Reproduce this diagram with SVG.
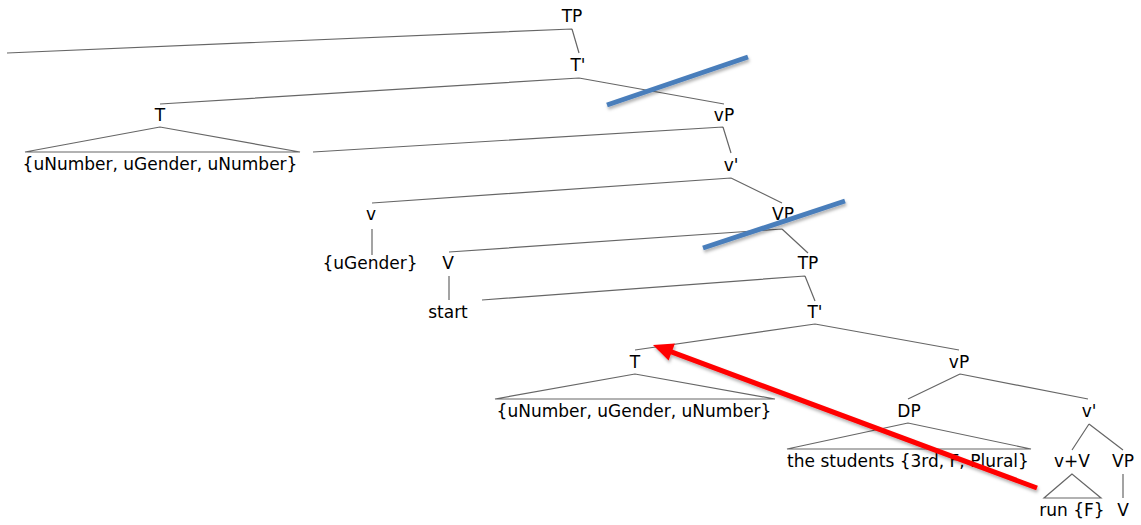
<svg xmlns="http://www.w3.org/2000/svg" width="1141" height="525" viewBox="0 0 1141 525">
<style>
text{font-family:"DejaVu Sans","Liberation Sans",sans-serif;font-size:17px;fill:#000;text-anchor:middle}
.e{stroke:#666;stroke-width:1.2;fill:none}
.blue{stroke:#4a7ebb;stroke-width:5;stroke-linecap:butt}
.red{stroke:#f00;stroke-width:5}
</style>
<defs>
<filter id="sh" x="-10%" y="-30%" width="120%" height="160%">
<feDropShadow dx="1" dy="2.5" stdDeviation="1.5" flood-color="#000" flood-opacity="0.3"/>
</filter>
</defs>
<rect width="1141" height="525" fill="#fff"/>
<g id="connectors">
<path class="e" d="M572,29 L7,53 M572,29 L579,53"/>
<path class="e" d="M579,78 L160,104 M579,78 L724,104"/>
<path class="e" d="M160,127 L25,152 L300,152 Z"/>
<path class="e" d="M723,127 L313,152 M723,127 L731,153"/>
<path class="e" d="M731,178 L372,203 M731,178 L782,203"/>
<path class="e" d="M372,229 L372,255"/>
<path class="e" d="M782,229 L449,252 M782,229 L808,253"/>
<path class="e" d="M449,276 L449,300"/>
<path class="e" d="M805,276 L482,300 M805,276 L815,301"/>
<path class="e" d="M815,324 L635,350 M815,324 L959,350"/>
<path class="e" d="M635,374 L495,399 L775,399 Z"/>
<path class="e" d="M960,374 L908,399 M960,374 L1088,399"/>
<path class="e" d="M908,423 L787,449 L1031,449 Z"/>
<path class="e" d="M1089,424 L1072,450 M1089,424 L1123,450"/>
<path class="e" d="M1072,474 L1044,498 L1101,498 Z"/>
<path class="e" d="M1123,474 L1123,498"/>
</g>
<g id="n-TP0"><text x="572" y="22">TP</text></g>
<g id="n-Tbar1"><text x="578" y="71">T'</text></g>
<g id="n-T2"><text x="160" y="121">T</text></g>
<g id="n-vP2"><text x="724" y="121">vP</text></g>
<g id="n-feat3"><text x="160" y="170">{uNumber, uGender, uNumber}</text></g>
<g id="n-vbar3"><text x="731" y="171">v'</text></g>
<g id="n-v4"><text x="371" y="220">v</text></g>
<g id="n-VP4"><text x="783" y="220">VP</text></g>
<g id="n-uGender5"><text x="370" y="269">{uGender}</text></g>
<g id="n-V5"><text x="448" y="269">V</text></g>
<g id="n-TP5"><text x="808" y="269">TP</text></g>
<g id="n-start6"><text x="448" y="318">start</text></g>
<g id="n-Tbar6"><text x="815" y="318">T'</text></g>
<g id="n-T7"><text x="635" y="368">T</text></g>
<g id="n-vP7"><text x="959" y="368">vP</text></g>
<g id="n-feat8"><text x="634" y="417">{uNumber, uGender, uNumber}</text></g>
<g id="n-DP8"><text x="909" y="417">DP</text></g>
<g id="n-vbar8"><text x="1089" y="417">v'</text></g>
<g id="n-students9"><text x="908" y="467">the students {3rd, F, Plural}</text></g>
<g id="n-vV9"><text x="1072" y="467">v+V</text></g>
<g id="n-VP9"><text x="1123" y="467">VP</text></g>
<g id="n-run10"><text x="1072" y="516">run {F}</text></g>
<g id="n-V10"><text x="1123" y="516">V</text></g>
<g id="annotations" filter="url(#sh)">
<line class="blue" x1="607" y1="105" x2="748" y2="57"/>
<line class="blue" x1="703" y1="248" x2="845" y2="201"/>
<line class="red" x1="1037" y1="488" x2="668" y2="350.6"/>
<polygon fill="#f00" points="653,345 674.9,343.6 668.6,360.4"/>
</g>
</svg>
